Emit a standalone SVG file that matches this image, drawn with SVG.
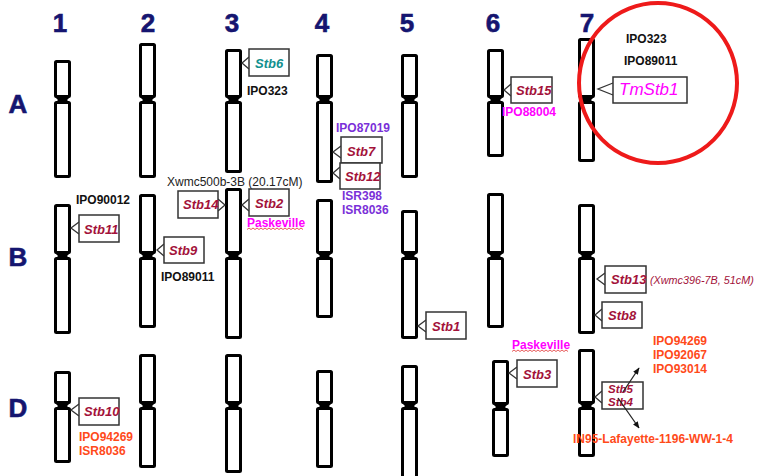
<svg xmlns="http://www.w3.org/2000/svg" width="757" height="476" viewBox="0 0 757 476">
<defs>
<style>
.arm{fill:#fff;stroke:#000;stroke-width:3}
.cen{fill:#000}
.box{fill:#fff;stroke:#333;stroke-width:1.5}
.ptr{fill:#fff;stroke:#333;stroke-width:1.3}
.num{font-family:"Liberation Sans",Arial,sans-serif;font-weight:bold;font-size:26px;fill:#151570;text-anchor:middle;stroke:#151570;stroke-width:0.6}
.stb{font-family:"Liberation Sans",Arial,sans-serif;font-weight:bold;font-style:italic;font-size:13px;fill:#a3123a}
.blk{font-family:"Liberation Sans",Arial,sans-serif;font-weight:bold;font-size:12px;fill:#111}
.pur{font-family:"Liberation Sans",Arial,sans-serif;font-weight:bold;font-size:12px;fill:#7a30d8}
.mag{font-family:"Liberation Sans",Arial,sans-serif;font-weight:bold;font-size:12px;fill:#ff00ff}
.org{font-family:"Liberation Sans",Arial,sans-serif;font-weight:bold;font-size:12px;fill:#ff4a1a}
.wav{fill:none;stroke:#e03030;stroke-width:0.8}
.arr{stroke:#222;stroke-width:1.3;fill:none;marker-end:url(#ah)}
</style>
<marker id="ah" viewBox="0 0 10 10" refX="9" refY="5" markerWidth="7" markerHeight="7" orient="auto" markerUnits="userSpaceOnUse">
<path d="M0,1 L10,5 L0,9 Z" fill="#111"/>
</marker>
</defs>
<rect width="757" height="476" fill="#fff"/>

<g id="headers">
<text class="num" x="60" y="32">1</text>
<text class="num" x="148" y="32">2</text>
<text class="num" x="232" y="32">3</text>
<text class="num" x="322" y="32">4</text>
<text class="num" x="407" y="32">5</text>
<text class="num" x="493" y="32">6</text>
<text class="num" x="587" y="32">7</text>
<text class="num" x="18" y="113">A</text>
<text class="num" x="18" y="266">B</text>
<text class="num" x="18" y="417">D</text>
</g>

<!-- chromosomes: outer x0, top, centromere c, bottom -->
<g id="chr1A"><rect class="arm" x="55.5" y="61.5" width="14" height="35" rx="1"/><rect class="arm" x="55.5" y="102.5" width="14" height="74" rx="1"/><polygon class="cen" points="55,97 70,97 67,100 70,103 55,103 58,100"/></g>
<g id="chr2A"><rect class="arm" x="140.5" y="44.5" width="14" height="52" rx="1"/><rect class="arm" x="140.5" y="102.5" width="14" height="74" rx="1"/><polygon class="cen" points="140,97 155,97 152,100 155,103 140,103 143,100"/></g>
<g id="chr3A"><rect class="arm" x="226.5" y="50.5" width="14" height="46" rx="1"/><rect class="arm" x="226.5" y="102.5" width="14" height="69" rx="1"/><polygon class="cen" points="226,97 241,97 238,100 241,103 226,103 229,100"/></g>
<g id="chr4A"><rect class="arm" x="317.5" y="55.5" width="14" height="41" rx="1"/><rect class="arm" x="317.5" y="102.5" width="14" height="79" rx="1"/><polygon class="cen" points="317,97 332,97 329,100 332,103 317,103 320,100"/></g>
<g id="chr5A"><rect class="arm" x="402.5" y="55.5" width="14" height="41" rx="1"/><rect class="arm" x="402.5" y="102.5" width="14" height="74" rx="1"/><polygon class="cen" points="402,97 417,97 414,100 417,103 402,103 405,100"/></g>
<g id="chr6A"><rect class="arm" x="488.5" y="50.5" width="14" height="46" rx="1"/><rect class="arm" x="488.5" y="102.5" width="14" height="53" rx="1"/><polygon class="cen" points="488,97 503,97 500,100 503,103 488,103 491,100"/></g>
<g id="chr7A"><rect class="arm" x="579.5" y="39.5" width="14" height="57" rx="1"/><rect class="arm" x="579.5" y="102.5" width="14" height="58" rx="1"/><polygon class="cen" points="579,97 594,97 591,100 594,103 579,103 582,100"/></g>

<g id="chr1B"><rect class="arm" x="55.5" y="205.5" width="14" height="47" rx="1"/><rect class="arm" x="55.5" y="258.5" width="14" height="74" rx="1"/><polygon class="cen" points="55,253 70,253 67,256 70,259 55,259 58,256"/></g>
<g id="chr2B"><rect class="arm" x="140.5" y="195.5" width="14" height="57" rx="1"/><rect class="arm" x="140.5" y="258.5" width="14" height="68" rx="1"/><polygon class="cen" points="140,253 155,253 152,256 155,259 140,259 143,256"/></g>
<g id="chr3B"><rect class="arm" x="226.5" y="189.5" width="14" height="63" rx="1"/><rect class="arm" x="226.5" y="258.5" width="14" height="79" rx="1"/><polygon class="cen" points="226,253 241,253 238,256 241,259 226,259 229,256"/></g>
<g id="chr4B"><rect class="arm" x="317.5" y="200.5" width="14" height="52" rx="1"/><rect class="arm" x="317.5" y="258.5" width="14" height="58" rx="1"/><polygon class="cen" points="317,253 332,253 329,256 332,259 317,259 320,256"/></g>
<g id="chr5B"><rect class="arm" x="402.5" y="211.5" width="14" height="41" rx="1"/><rect class="arm" x="402.5" y="258.5" width="14" height="79" rx="1"/><polygon class="cen" points="402,253 417,253 414,256 417,259 402,259 405,256"/></g>
<g id="chr6B"><rect class="arm" x="488.5" y="194.5" width="14" height="58" rx="1"/><rect class="arm" x="488.5" y="258.5" width="14" height="68" rx="1"/><polygon class="cen" points="488,253 503,253 500,256 503,259 488,259 491,256"/></g>
<g id="chr7B"><rect class="arm" x="579.5" y="205.5" width="14" height="47" rx="1"/><rect class="arm" x="579.5" y="258.5" width="14" height="74" rx="1"/><polygon class="cen" points="579,253 594,253 591,256 594,259 579,259 582,256"/></g>

<g id="chr1D"><rect class="arm" x="55.5" y="372.5" width="14" height="30" rx="1"/><rect class="arm" x="55.5" y="408.5" width="14" height="53" rx="1"/><polygon class="cen" points="55,403 70,403 67,406 70,409 55,409 58,406"/></g>
<g id="chr2D"><rect class="arm" x="140.5" y="355.5" width="14" height="47" rx="1"/><rect class="arm" x="140.5" y="408.5" width="14" height="58" rx="1"/><polygon class="cen" points="140,403 155,403 152,406 155,409 140,409 143,406"/></g>
<g id="chr3D"><rect class="arm" x="226.5" y="355.5" width="14" height="47" rx="1"/><rect class="arm" x="226.5" y="408.5" width="14" height="63" rx="1"/><polygon class="cen" points="226,403 241,403 238,406 241,409 226,409 229,406"/></g>
<g id="chr4D"><rect class="arm" x="317.5" y="371.5" width="14" height="31" rx="1"/><rect class="arm" x="317.5" y="408.5" width="14" height="58" rx="1"/><polygon class="cen" points="317,403 332,403 329,406 332,409 317,409 320,406"/></g>
<g id="chr5D"><rect class="arm" x="402.5" y="366.5" width="14" height="36" rx="1"/><rect class="arm" x="402.5" y="408.5" width="14" height="74" rx="1"/><polygon class="cen" points="402,403 417,403 414,406 417,409 402,409 405,406"/></g>
<g id="chr6D"><rect class="arm" x="493.5" y="361.5" width="14" height="42" rx="1"/><rect class="arm" x="493.5" y="409.5" width="14" height="46" rx="1"/><polygon class="cen" points="493,404 508,404 505,407 508,410 493,410 496,407"/></g>
<g id="chr7D"><rect class="arm" x="579.5" y="350.5" width="14" height="52" rx="1"/><rect class="arm" x="579.5" y="408.5" width="14" height="47" rx="1"/><polygon class="cen" points="579,403 594,403 591,406 594,409 579,409 582,406"/></g>

<g id="connectors">
<polyline class="ptr" points="249,57 242,63 249,69"/>
<polyline class="ptr" points="511,84 504,90 511,96"/>
<polyline class="ptr" points="613,83 598,89 613,95"/>
<polyline class="ptr" points="218,199 225,205 218,211"/>
<polyline class="ptr" points="249,199 242,205 249,211"/>
<polyline class="ptr" points="79,222 71,228 79,234"/>
<polyline class="ptr" points="164,244 157,250 164,256"/>
<polyline class="ptr" points="341,146 333,152 341,158"/>
<polyline class="ptr" points="340,167 333,173 340,179"/>
<polyline class="ptr" points="426,320 418,326 426,332"/>
<polyline class="ptr" points="605,273 597,279 605,285"/>
<polyline class="ptr" points="602,309 595,315 602,321"/>
<polyline class="ptr" points="79,404 71,410 79,416"/>
<polyline class="ptr" points="517,367 509,373 517,379"/>
<polyline class="ptr" points="602,391 595,397 602,403"/>
</g>

<g id="lbl-Stb6"><rect class="box" x="249" y="49" width="40" height="27"/><text class="stb" x="255" y="68" style="fill:#12908e">Stb6</text></g>
<text class="blk" x="247" y="95">IPO323</text>

<g id="lbl-Stb15"><rect class="box" x="511" y="77" width="41" height="26"/><text class="stb" x="516" y="95">Stb15</text></g>
<text class="mag" x="502" y="116">IPO88004</text>

<g id="lbl-TmStb1"><rect class="box" x="613" y="77" width="74" height="26"/><text x="619" y="95" style="font-family:'Liberation Sans',Arial,sans-serif;font-style:italic;font-size:17px;fill:#ff00ff">TmStb1</text></g>
<text class="blk" x="626" y="43">IPO323</text>
<text class="blk" x="624" y="65">IPO89011</text>
<ellipse id="highlight" cx="658" cy="83" rx="79" ry="80" fill="none" stroke="#ee1a1a" stroke-width="4"/>

<g id="lbl-Stb7"><rect class="box" x="341" y="137" width="41" height="26"/><text class="stb" x="347" y="156">Stb7</text></g>
<g id="lbl-Stb12"><rect class="box" x="340" y="163" width="40" height="26"/><text class="stb" x="345" y="181">Stb12</text></g>
<text class="pur" x="336" y="132">IPO87019</text>
<text class="pur" x="342" y="200">ISR398</text>
<text class="pur" x="342" y="214">ISR8036</text>

<text x="167" y="186" style="font-family:'Liberation Sans',Arial,sans-serif;font-size:12px;fill:#222">Xwmc500b-3B (20.17cM)</text>
<g id="lbl-Stb14"><rect class="box" x="178" y="191" width="40" height="27"/><text class="stb" x="183" y="209">Stb14</text></g>
<g id="lbl-Stb2"><rect class="box" x="249" y="189" width="40" height="27"/><text class="stb" x="255" y="208">Stb2</text></g>
<text class="mag" x="247" y="227">Paskeville</text>
<path class="wav" d="M247,229.5 l2,-1.5 l2,1.5 l2,-1.5 l2,1.5 l2,-1.5 l2,1.5 l2,-1.5 l2,1.5 l2,-1.5 l2,1.5 l2,-1.5 l2,1.5 l2,-1.5 l2,1.5 l2,-1.5 l2,1.5 l2,-1.5 l2,1.5 l2,-1.5 l2,1.5 l2,-1.5 l2,1.5 l2,-1.5 l2,1.5 l2,-1.5 l2,1.5 l2,-1.5 l2,1.5"/>

<text class="blk" x="76" y="204">IPO90012</text>
<g id="lbl-Stb11"><rect class="box" x="79" y="215" width="40" height="27"/><text class="stb" x="84" y="234">Stb11</text></g>
<g id="lbl-Stb9"><rect class="box" x="164" y="237" width="40" height="26"/><text class="stb" x="169" y="255">Stb9</text></g>
<text class="blk" x="161" y="281">IPO89011</text>

<g id="lbl-Stb1"><rect class="box" x="426" y="312" width="40" height="27"/><text class="stb" x="432" y="331">Stb1</text></g>

<g id="lbl-Stb13"><rect class="box" x="605" y="266" width="41" height="27"/><text class="stb" x="611" y="284">Stb13 <tspan style="font-weight:normal;font-size:10.8px">(Xwmc396-7B, 51cM)</tspan></text></g>
<g id="lbl-Stb8"><rect class="box" x="602" y="302" width="40" height="26"/><text class="stb" x="608" y="320">Stb8</text></g>

<g id="lbl-Stb10"><rect class="box" x="79" y="398" width="40" height="27"/><text class="stb" x="84" y="416">Stb10</text></g>
<text class="org" x="79" y="441">IPO94269</text>
<text class="org" x="79" y="455">ISR8036</text>

<text class="mag" x="512" y="349">Paskeville</text>
<path class="wav" d="M512,351.5 l2,-1.5 l2,1.5 l2,-1.5 l2,1.5 l2,-1.5 l2,1.5 l2,-1.5 l2,1.5 l2,-1.5 l2,1.5 l2,-1.5 l2,1.5 l2,-1.5 l2,1.5 l2,-1.5 l2,1.5 l2,-1.5 l2,1.5 l2,-1.5 l2,1.5 l2,-1.5 l2,1.5 l2,-1.5 l2,1.5 l2,-1.5 l2,1.5 l2,-1.5 l2,1.5"/>
<g id="lbl-Stb3"><rect class="box" x="517" y="360" width="40" height="27"/><text class="stb" x="523" y="379">Stb3</text></g>

<g id="lbl-Stb5-Stb4"><rect class="box" x="602" y="382" width="41" height="27"/><text class="stb" x="608" y="393" style="font-size:11.5px">Stb5</text><text class="stb" x="608" y="406" style="font-size:11.5px">Stb4</text></g>
<g id="arrows">
<line class="arr" x1="623" y1="392" x2="639" y2="368"/>
<line class="arr" x1="618" y1="398" x2="639" y2="428"/>
</g>
<text class="org" x="653" y="345">IPO94269</text>
<text class="org" x="653" y="359">IPO92067</text>
<text class="org" x="653" y="373">IPO93014</text>
<text class="org" x="573" y="443">IN95-Lafayette-1196-WW-1-4</text>
</svg>
